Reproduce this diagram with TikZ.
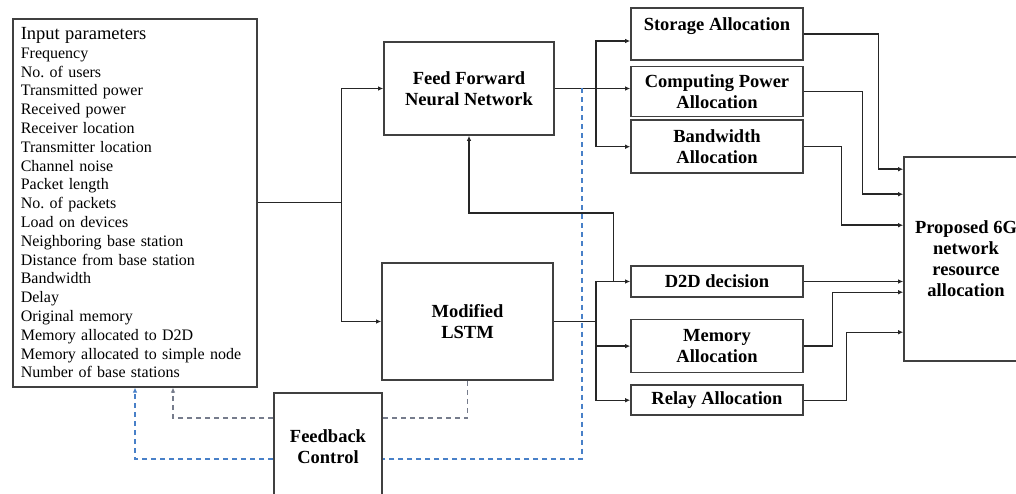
\documentclass[tikz,border=0pt]{standalone}
\usepackage{fontspec}
\setmainfont{Liberation Serif}
\usetikzlibrary{arrows.meta}
\usetikzlibrary{positioning}

\definecolor{fbblue}{RGB}{72,128,200}
\definecolor{fbgray}{RGB}{118,124,140}

\begin{document}
\frenchspacing
\begin{tikzpicture}[
		x=1pt, y=-1pt,
		node distance=5pt,
		box/.style={draw=black!75, line width=1.6pt, fill=white, align=center, inner sep=0pt, font=\bfseries\fontsize{18.5}{21}\selectfont},
		side/.style={box, minimum width=172pt},
		link/.style={draw=black!85, line width=1.4pt},
		tip/.style={-{Latex[length=5pt,width=4.5pt]}},
		fbdash/.style={line width=1.4pt, dash pattern=on 5pt off 4pt},
	]
		\clip (0,0) rectangle (1016,494);

		\begin{scope}
			\node (in) [box, anchor=north west, align=left, text width=228pt, minimum height=368pt, inner xsep=8pt, font=\fontsize{16}{18.8}\selectfont] at (12,18) {{\fontsize{18.5}{19}\selectfont Input parameters}\\
				Frequency\\
				No. of users\\
				Transmitted power\\
				Received power\\
				Receiver location\\
				Transmitter location\\
				Channel noise\\
				Packet length\\
				No. of packets\\
				Load on devices\\
				Neighboring base station\\
				Distance from base station\\
				Bandwidth\\
				Delay\\
				Original memory\\
				Memory allocated to D2D\\
				Memory allocated to simple node\\
				Number of base stations};
			\node (ffnn) [box, minimum width=170pt, minimum height=93pt] at (469,88.5) {Feed Forward\\Neural Network};
			\node (lstm) [box, minimum width=171pt, minimum height=117pt] at (467.5,321.5) {Modified\\LSTM};
			\node (fb) [box, minimum width=108pt, minimum height=107pt] at (328,446.5) {Feedback\\Control};

			\draw[link] (in.east) -- ([xshift=84pt]in.east);
			\draw[link,tip] ([xshift=84pt]in.east) |- (ffnn.west);
			\draw[link,tip] ([xshift=84pt]in.east) |- (lstm.west);
		\end{scope}

		\begin{scope}
			\node (store) [side, text height=17pt, text depth=23pt, inner ysep=6pt] at (717,34) {Storage Allocation};
			\node (comp) [side, minimum height=50pt, below=of store] {Computing Power\\Allocation};
			\node (bw) [side, minimum height=53pt, below=2pt of comp] {Bandwidth\\Allocation};

			\node (d2d) [side, minimum height=31pt] at (717,281.5) {D2D decision};
			\node (mem) [side, minimum height=53pt, below=21pt of d2d] {Memory\\Allocation};
			\node (relay) [side, minimum height=30pt, below=11pt of mem] {Relay Allocation};

			\node (prop) [box, minimum width=124pt, minimum height=204pt] at (966,259) {Proposed 6G\\network\\resource\\allocation};

			\draw[link,tip] (ffnn.east) -- (ffnn.east -| comp.west);
			\draw[link,tip] ([xshift=41pt]ffnn.east) |- ([yshift=-7pt]store.west);
			\draw[link,tip] ([xshift=41pt]ffnn.east) |- (bw.west);

			\draw[link,tip] (lstm.east) -- ([xshift=42pt]lstm.east) |- (d2d.west);
			\draw[link,tip] ([xshift=42pt]lstm.east) |- (mem.west);
			\draw[link,tip] ([xshift=42pt]lstm.east) |- (relay.west);

			\draw[link,tip] ([xshift=-17pt]d2d.west) |- (ffnn.south |- 0,213) -- (ffnn.south);

			\draw[link,tip] (store.east) -| ([xshift=-25pt,yshift=-13pt]prop.north west) -- ([yshift=-13pt]prop.north west);
			\draw[link,tip] (comp.east) -| ([xshift=-41pt,yshift=-38pt]prop.north west) -- ([yshift=-38pt]prop.north west);
			\draw[link,tip] (bw.east) -| ([xshift=-62pt,yshift=-69pt]prop.north west) -- ([yshift=-69pt]prop.north west);
			\draw[link,tip] (d2d.east) -- (d2d.east -| prop.west);
			\draw[link,tip] (mem.east) -| ([xshift=-71pt,yshift=-136pt]prop.north west) -- ([yshift=-136pt]prop.north west);
			\draw[link,tip] (relay.east) -| ([xshift=-57pt,yshift=-176pt]prop.north west) -- ([yshift=-176pt]prop.north west);
		\end{scope}

		\begin{scope}
			\draw[fbdash, fbgray] (lstm.south) |- ([yshift=28.5pt]fb.east);
			\draw[fbdash, fbgray, tip] ([yshift=28.5pt]fb.west) -| ([xshift=161pt]in.south west);
			\draw[fbdash, fbblue] ([xshift=27pt]ffnn.east) |- ([yshift=-12.5pt]fb.east);
			\draw[fbdash, fbblue, tip] ([yshift=-12.5pt]fb.west) -| ([xshift=123pt]in.south west);
		\end{scope}
	\end{tikzpicture}
\end{document}
